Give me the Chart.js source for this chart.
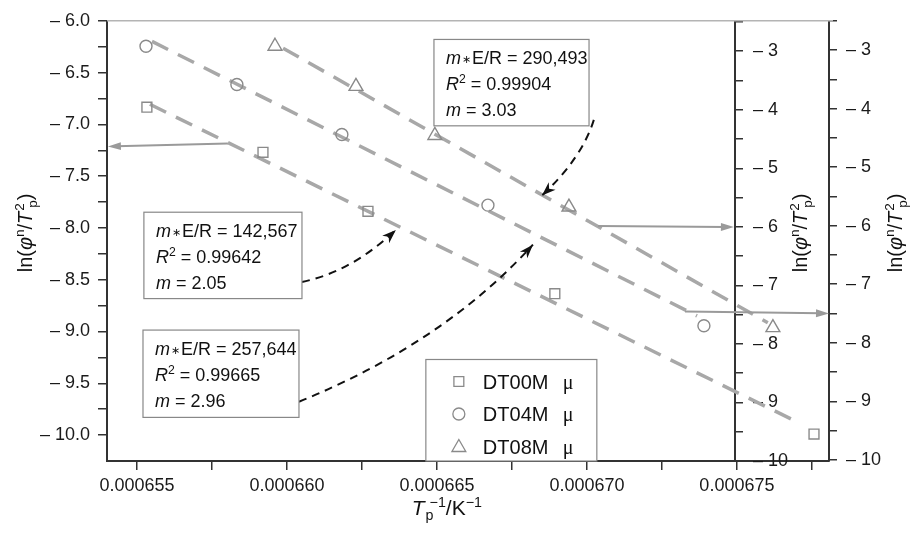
<!DOCTYPE html>
<html>
<head>
<meta charset="utf-8">
<script src="https://cdn.jsdelivr.net/npm/chart.js@4.4.1/dist/chart.umd.min.js"></script>
<style>
  html, body { margin: 0; padding: 0; background: #fff; }
</style>
</head>
<body>
<canvas id="chart" width="920" height="543"></canvas>
<script>
const FONT = "'Liberation Sans', Arial, Helvetica, sans-serif";
const SERIF = "'Liberation Serif', 'DejaVu Serif', serif";

// axis ranges
const X_MIN = 0.000654, X_MAX = 0.00067807;
const LEFT_MIN = -10.25, LEFT_MAX = -6.0;
const IN_MIN = -10, IN_MAX = -2.48;
const OUT_MIN = -10.02, OUT_MAX = -2.5;
const INNER_AXIS_AT = 0.00067493;   // x value where the inner right axis stands

// tick values / labels
const xTickValues = [0.000655, 0.0006575, 0.00066, 0.0006625, 0.000665, 0.0006675, 0.00067, 0.0006725, 0.000675, 0.0006775];
const xTickLabels = ['0.000655', '', '0.000660', '', '0.000665', '', '0.000670', '', '0.000675', ''];
const leftTickValues = [-10, -9.75, -9.5, -9.25, -9, -8.75, -8.5, -8.25, -8, -7.75, -7.5, -7.25, -7, -6.75, -6.5, -6.25, -6];
const leftTickLabels = ['– 10.0', '', '– 9.5', '', '– 9.0', '', '– 8.5', '', '– 8.0', '', '– 7.5', '', '– 7.0', '', '– 6.5', '', '– 6.0'];
const rightTickValues = [-10, -9.5, -9, -8.5, -8, -7.5, -7, -6.5, -6, -5.5, -5, -4.5, -4, -3.5, -3, -2.5];
const rightTickLabels = ['– 10', '', '– 9', '', '– 8', '', '– 7', '', '– 6', '', '– 5', '', '– 4', '', '– 3', ''];

// series (x = 1/Tp, y = ln(phi^n/Tp^2))
const seriesNames = ['DT00M', 'DT04M', 'DT08M'];
const seriesStyles = ['rect', 'circle', 'triangle'];
const dt00X = [0.00065533, 0.00065920, 0.00066270, 0.00066893, 0.00067757];
const dt00Y = [-6.834, -7.270, -7.839, -8.635, -9.990];          // left axis
const dt04X = [0.00065530, 0.00065833, 0.00066183, 0.00066670, 0.00067390];
const dt04Y = [-2.936, -3.589, -4.443, -5.649, -7.709];          // outer right axis
const dt08X = [0.00065960, 0.00066230, 0.00066493, 0.00066940, 0.00067620];
const dt08Y = [-2.915, -3.601, -4.439, -5.662, -7.722];          // inner right axis

// linear fits (end points)
const fit00X = [0.00065543, 0.00067710];
const fit00Y = [-6.806, -9.886];
const fit04X = [0.00065550, 0.00067367];
const fit04Y = [-2.852, -7.541];
const fit08X = [0.00065987, 0.00067603];
const fit08Y = [-2.948, -7.638];

// annotations, in x / left-axis units
const noteBoxes = [
  { x0: 0.00066490, y0: -6.180, x1: 0.00067007, y1: -7.014, er: '290,493', r2: '0.99904', m: '3.03' },
  { x0: 0.00065523, y0: -7.848, x1: 0.00066050, y1: -8.682, er: '142,567', r2: '0.99642', m: '2.05' },
  { x0: 0.00065520, y0: -8.986, x1: 0.00066040, y1: -9.829, er: '257,644', r2: '0.99665', m: '2.96' }
];
const guideArrows = [
  { from: [0.00065803, -7.185], to: [0.00065403, -7.213] },
  { from: [0.00067037, -7.981], to: [0.00067490, -7.991] },
  { from: [0.00067327, -8.806], to: [0.00067807, -8.825] }
];
const fitArrows = [
  { p0: [0.00066050, -8.521], c: [0.00066213, -8.427], p1: [0.00066363, -8.019] },
  { p0: [0.00066040, -9.678], c: [0.00066523, -9.109], p1: [0.00066820, -8.161] },
  { p0: [0.00067023, -6.957], c: [0.00066983, -7.327], p1: [0.00066850, -7.687] }
];
const legendBox = { x0: 0.00066463, y0: -9.270, x1: 0.00067033, y1: -10.25 };

const markerColor = '#8a8a8a';
const fitColor = '#a8a8a8';

function points(xs, ys) {
  return xs.map((x, i) => ({ x: x, y: ys[i] }));
}

function markerSet(i, xs, ys, axis, r) {
  return {
    label: seriesNames[i], data: points(xs, ys), yAxisID: axis,
    pointStyle: seriesStyles[i], pointRadius: r,
    pointBorderColor: markerColor, pointBackgroundColor: 'rgba(255,255,255,0)',
    pointBorderWidth: 1.4, showLine: false
  };
}

function fitSet(xs, ys, axis) {
  return {
    label: 'fit', data: points(xs, ys), yAxisID: axis, showLine: true,
    pointRadius: 0, borderColor: fitColor, borderWidth: 3.5, borderDash: [18, 11]
  };
}

// text made of plain / italic / raised / lowered pieces
function richText(ctx, parts, x, y, size, align) {
  const placed = [];
  let cx = 0, lastStart = 0, lastW = 0;
  for (const p of parts) {
    const fs = p.v ? size * (p.s || 0.68) : size;
    const font = (p.i ? 'italic ' : '') + fs + 'px ' + (p.f || FONT);
    ctx.font = font;
    const w = ctx.measureText(p.t).width;
    let start;
    if (p.stack) {
      start = lastStart + (p.dx || 0);
      cx = Math.max(lastStart + lastW, start + w);
    } else {
      start = cx + (p.dx || 0);
      cx = start + w;
      lastStart = start; lastW = w;
    }
    placed.push({ p: p, font: font, start: start });
  }
  const ox = align === 'center' ? x - cx / 2 : (align === 'right' ? x - cx : x);
  ctx.textAlign = 'left';
  ctx.textBaseline = 'alphabetic';
  for (const q of placed) {
    ctx.font = q.font;
    let dy = 0;
    if (q.p.v === 'sup') dy = -size * 0.4;
    else if (q.p.v === 'sub') dy = size * 0.25;
    else if (q.p.v === 'mid') dy = -size * 0.06;
    ctx.fillText(q.p.t, ox + q.start, y + dy);
  }
}

const yTitle = [
  { t: 'ln(' }, { t: 'φ', i: 1 }, { t: 'n', v: 'sup' }, { t: '/' }, { t: 'T', i: 1 },
  { t: '2', v: 'sup', dx: 1 }, { t: 'p', v: 'sub', stack: 1, dx: 3 }, { t: ')' }
];
const xTitle = [
  { t: 'T', i: 1 }, { t: 'p', v: 'sub', dx: 1 }, { t: '−1', v: 'sup', stack: 1, dx: 4 },
  { t: '/K' }, { t: '−1', v: 'sup' }
];

function drawMarker(ctx, style, x, y, r) {
  ctx.beginPath();
  if (style === 'rect') {
    const s = r * Math.SQRT1_2;
    ctx.rect(x - s, y - s, 2 * s, 2 * s);
  } else if (style === 'circle') {
    ctx.arc(x, y, r, 0, Math.PI * 2);
  } else {
    let a = 0;
    ctx.moveTo(x + Math.sin(a) * r, y - Math.cos(a) * r);
    a += Math.PI * 2 / 3;
    ctx.lineTo(x + Math.sin(a) * r, y - Math.cos(a) * r);
    a += Math.PI * 2 / 3;
    ctx.lineTo(x + Math.sin(a) * r, y - Math.cos(a) * r);
    ctx.closePath();
  }
  ctx.stroke();
}

function head(ctx, x, y, ang, len, half, notch) {
  const c = Math.cos(ang), s = Math.sin(ang);
  ctx.beginPath();
  ctx.moveTo(x, y);
  ctx.lineTo(x - len * c + half * s, y - len * s - half * c);
  ctx.lineTo(x - len * notch * c, y - len * notch * s);
  ctx.lineTo(x - len * c - half * s, y - len * s + half * c);
  ctx.closePath();
  ctx.fill();
}

const decor = {
  id: 'decor',
  afterLayout(chart) {
    // move the inner right axis into the plot, at INNER_AXIS_AT
    const s = chart.scales.yIn;
    const px = Math.round(chart.scales.x.getPixelForValue(INNER_AXIS_AT));
    s.left = px; s.right = px + 80; s.width = 80;
  },
  beforeDatasetsDraw(chart) {
    const { ctx, chartArea: a } = chart;
    ctx.save();
    ctx.strokeStyle = '#b4b4b4';
    ctx.lineWidth = 1.5;
    ctx.beginPath();
    ctx.moveTo(a.left, a.top);
    ctx.lineTo(a.right + 4, a.top);
    ctx.stroke();
    ctx.restore();
  },
  afterDraw(chart) {
    const { ctx, chartArea: a, scales } = chart;
    const X = v => scales.x.getPixelForValue(v);
    const Y = v => scales.y.getPixelForValue(v);
    ctx.save();

    // grey guide arrows to the axes
    ctx.strokeStyle = '#9a9a9a';
    ctx.fillStyle = '#9a9a9a';
    ctx.lineWidth = 2;
    for (const g of guideArrows) {
      const x0 = X(g.from[0]), y0 = Y(g.from[1]), x1 = X(g.to[0]), y1 = Y(g.to[1]);
      const ang = Math.atan2(y1 - y0, x1 - x0);
      ctx.beginPath();
      ctx.moveTo(x0, y0);
      ctx.lineTo(x1 - 8 * Math.cos(ang), y1 - 8 * Math.sin(ang));
      ctx.stroke();
      head(ctx, x1, y1, ang, 13, 4, 1);
    }

    // black dashed curved arrows from the boxes
    ctx.strokeStyle = '#111';
    ctx.fillStyle = '#111';
    ctx.lineWidth = 2;
    for (const f of fitArrows) {
      const p0 = [X(f.p0[0]), Y(f.p0[1])], c = [X(f.c[0]), Y(f.c[1])], p1 = [X(f.p1[0]), Y(f.p1[1])];
      ctx.setLineDash([8, 6]);
      ctx.beginPath();
      ctx.moveTo(p0[0], p0[1]);
      ctx.quadraticCurveTo(c[0], c[1], p1[0], p1[1]);
      ctx.stroke();
      ctx.setLineDash([]);
      head(ctx, p1[0], p1[1], Math.atan2(p1[1] - c[1], p1[0] - c[0]), 14, 5, 0.7);
    }

    // text boxes
    ctx.lineWidth = 1.2;
    for (const b of noteBoxes) {
      const x0 = X(b.x0), y0 = Y(b.y0), x1 = X(b.x1), y1 = Y(b.y1);
      ctx.fillStyle = '#fff';
      ctx.fillRect(x0, y0, x1 - x0, y1 - y0);
      ctx.strokeStyle = '#888';
      ctx.strokeRect(x0, y0, x1 - x0, y1 - y0);
      ctx.fillStyle = '#111';
      const tx = x0 + 12;
      richText(ctx, [{ t: 'm', i: 1 }, { t: '∗', v: 'mid', s: 0.62, dx: 1 }, { t: 'E/R = ' + b.er, dx: 1 }], tx, y0 + 25, 18, 'left');
      richText(ctx, [{ t: 'R', i: 1 }, { t: '2', v: 'sup' }, { t: ' = ' + b.r2 }], tx, y0 + 51, 18, 'left');
      richText(ctx, [{ t: 'm', i: 1 }, { t: ' = ' + b.m }], tx, y0 + 77, 18, 'left');
    }

    // legend
    {
      const x0 = X(legendBox.x0), y0 = Y(legendBox.y0), x1 = X(legendBox.x1), y1 = Y(legendBox.y1);
      ctx.fillStyle = '#fff';
      ctx.fillRect(x0, y0, x1 - x0, y1 - y0);
      ctx.strokeStyle = '#888';
      ctx.lineWidth = 1.2;
      ctx.strokeRect(x0, y0, x1 - x0, y1 - y0);
      const radii = [7, 6, 8];
      seriesNames.forEach((name, i) => {
        const cy = y0 + 22 + i * 32.5;
        ctx.strokeStyle = markerColor;
        ctx.lineWidth = 1.3;
        drawMarker(ctx, seriesStyles[i], x0 + 33, cy + (i === 2 ? 1 : 0), radii[i]);
        ctx.fillStyle = '#111';
        richText(ctx, [{ t: name }], x0 + 57, cy + 7.5, 20, 'left');
        richText(ctx, [{ t: 'μ', f: SERIF }], x0 + 137, cy + 7.5, 20, 'left');
      });
    }

    // axis titles
    ctx.fillStyle = '#111';
    const midY = (a.top + a.bottom) / 2 - 8;
    const titleAt = (x) => {
      ctx.save();
      ctx.translate(x, midY);
      ctx.rotate(-Math.PI / 2);
      richText(ctx, yTitle, 0, 0, 20, 'center');
      ctx.restore();
    };
    titleAt(scales.y.left + 32);
    titleAt(scales.yIn.left + 72);
    titleAt(scales.yOut.left + 73);
    richText(ctx, xTitle, X(0.00066533), a.bottom + 54, 21, 'center');

    ctx.restore();
  }
};

function yScale(min, max, values, labels, pos, width, tick, pad) {
  return {
    type: 'linear', position: pos, min: min, max: max,
    afterBuildTicks: s => { s.ticks = values.map(v => ({ value: v })); },
    afterFit: s => { s.width = width; },
    ticks: {
      autoSkip: false, padding: pad, color: '#1a1a1a',
      font: { size: 18, family: FONT },
      callback: (v, i) => labels[i]
    },
    grid: { drawOnChartArea: false, drawTicks: true, tickLength: tick, color: '#333', lineWidth: 1.5 },
    border: { display: true, color: '#333', width: 2 }
  };
}

new Chart(document.getElementById('chart'), {
  type: 'scatter',
  data: {
    datasets: [
      markerSet(0, dt00X, dt00Y, 'y', 7),
      markerSet(1, dt04X, dt04Y, 'yOut', 6),
      markerSet(2, dt08X, dt08Y, 'yIn', 8),
      fitSet(fit00X, fit00Y, 'y'),
      fitSet(fit04X, fit04Y, 'yOut'),
      fitSet(fit08X, fit08Y, 'yIn')
    ]
  },
  options: {
    responsive: false,
    animation: false,
    events: [],
    layout: { padding: { top: 12, left: 0, right: 0, bottom: 0 } },
    plugins: { legend: { display: false }, tooltip: { enabled: false } },
    scales: {
      x: {
        type: 'linear', position: 'bottom', min: X_MIN, max: X_MAX,
        afterBuildTicks: s => { s.ticks = xTickValues.map(v => ({ value: v })); },
        afterFit: s => { s.height = 82; },
        ticks: {
          autoSkip: false, maxRotation: 0, padding: 5, color: '#1a1a1a',
          font: { size: 18, family: FONT },
          callback: (v, i) => xTickLabels[i]
        },
        grid: { drawOnChartArea: false, drawTicks: true, tickLength: 9, color: '#333', lineWidth: 1.5 },
        border: { display: true, color: '#333', width: 2 }
      },
      y: yScale(LEFT_MIN, LEFT_MAX, leftTickValues, leftTickLabels, 'left', 107, 9, 8),
      yIn: yScale(IN_MIN, IN_MAX, rightTickValues, rightTickLabels, 'right', 0, 8, 10),
      yOut: yScale(OUT_MIN, OUT_MAX, rightTickValues, rightTickLabels, 'right', 91, 8, 9)
    }
  },
  plugins: [decor]
});
</script>
</body>
</html>
